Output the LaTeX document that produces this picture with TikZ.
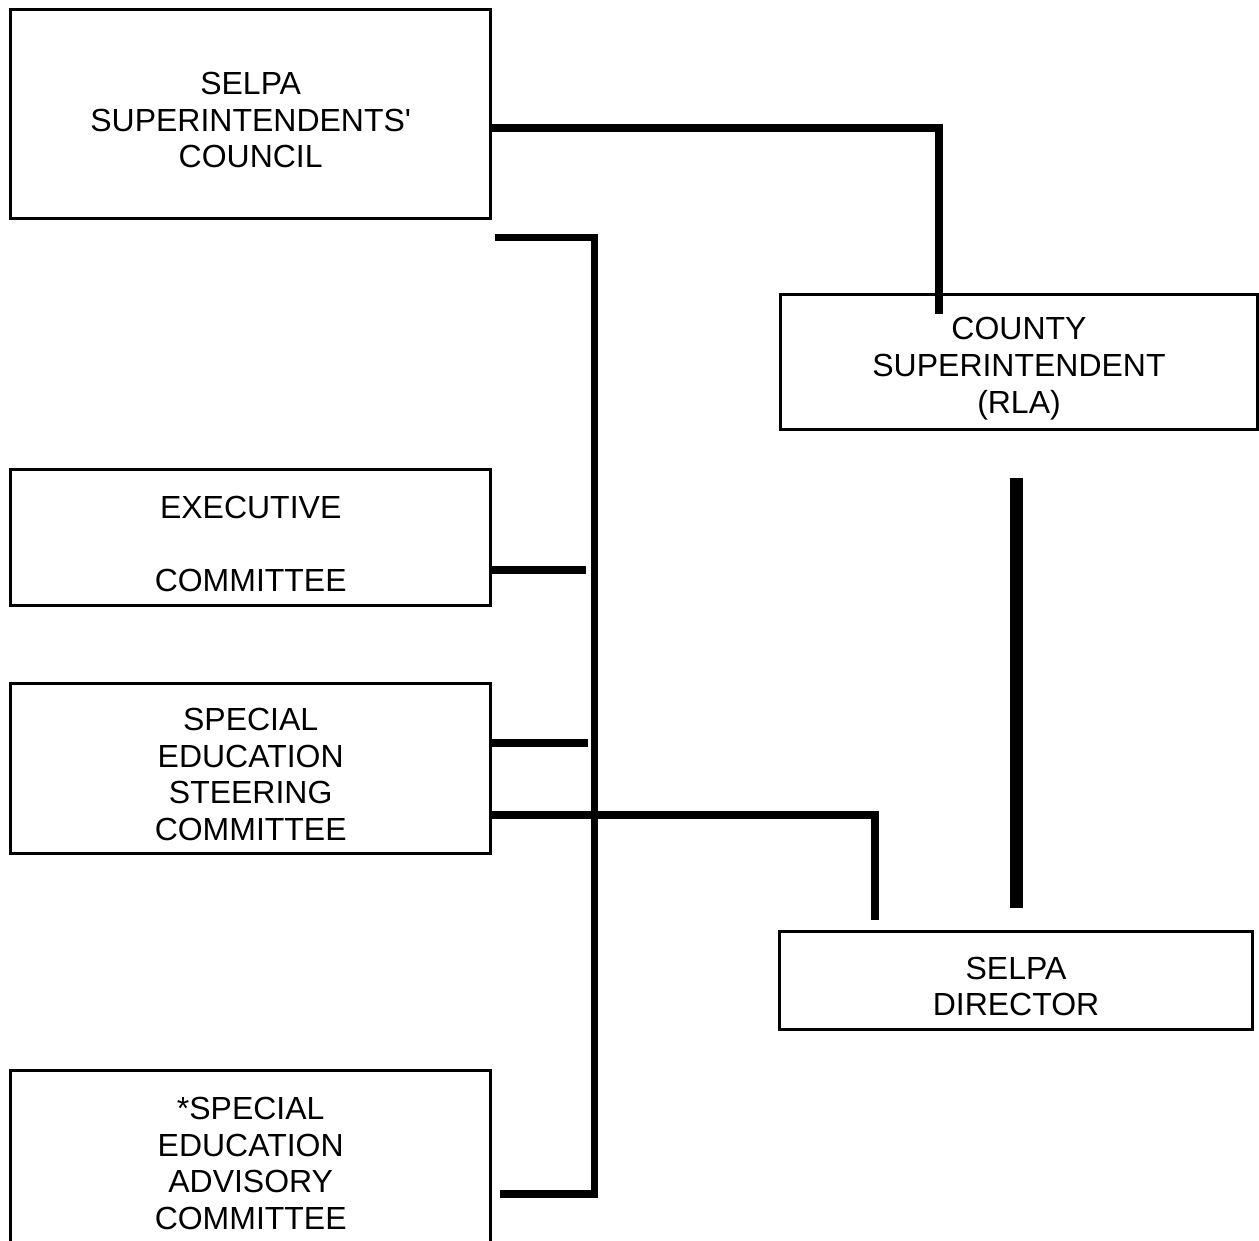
\documentclass[tikz,border=0pt]{standalone}
\usepackage{fontspec}
\setmainfont{Liberation Sans}
\usetikzlibrary{calc}
\newcommand{\topgap}{\rule{0pt}{10.1pt}}
\tikzset{
  orgbox/.style={draw, line width=0.85pt, align=center, inner sep=0pt,
    font=\fontsize{9.1pt}{10.4pt}\selectfont},
  link/.style={line width=2.27pt},
  biglink/.style={line width=3.7pt}
}
\begin{document}
\begin{tikzpicture}
  \useasboundingbox (0,0) rectangle (12.59,-12.40);
  \node[orgbox, minimum width=4.80cm, minimum height=2.09cm] (council) at (2.507,-1.135)
    {\topgap SELPA\\SUPERINTENDENTS\textquotesingle\\COUNCIL};
  \node[orgbox, minimum width=4.775cm, minimum height=1.355cm] (county) at (10.19,-3.62)
    {\topgap COUNTY\\SUPERINTENDENT\\(RLA)};
  \node[orgbox, minimum width=4.80cm, minimum height=1.356cm] (exec) at (2.507,-5.375)
    {\topgap EXECUTIVE\\[10.4pt]COMMITTEE};
  \node[orgbox, minimum width=4.80cm, minimum height=1.70cm] (steering) at (2.507,-7.68)
    {\topgap SPECIAL\\EDUCATION\\STEERING\\COMMITTEE};
  \node[orgbox, minimum width=4.73cm, minimum height=0.98cm] (director) at (10.16,-9.80)
    {\topgap SELPA\\DIRECTOR};
  \node[orgbox, minimum width=4.80cm, minimum height=1.74cm] (advisory) at (2.507,-11.57)
    {\topgap *SPECIAL\\EDUCATION\\ADVISORY\\COMMITTEE};
  % council to county
  \draw[link] ([yshift=-1.45mm]council.east) -| ($(county.north)+(-0.80,-0.215)$);
  % committee bus
  \coordinate (bustop) at ($(council.south east)+(0.023,-0.18)$);
  \coordinate (busbot) at ($(advisory.east)+(0.073,-0.37)$);
  \draw[link] (bustop) -- ++(1.0,0) |- (busbot);
  \draw[link] ([yshift=-3.25mm]exec.east) -- ++(0.94,0);
  \draw[link] ([yshift=2.5mm]steering.east) -- ++(0.96,0);
  % steering to director
  \draw[link] ([yshift=-4.7mm]steering.east) -| ($(director.north)+(-1.41,0.10)$);
  % county to director
  \draw[biglink] ($(county.south)+(-0.03,-0.47)$) -- ($(county.south |- director.north)+(-0.03,0.22)$);
\end{tikzpicture}
\end{document}
